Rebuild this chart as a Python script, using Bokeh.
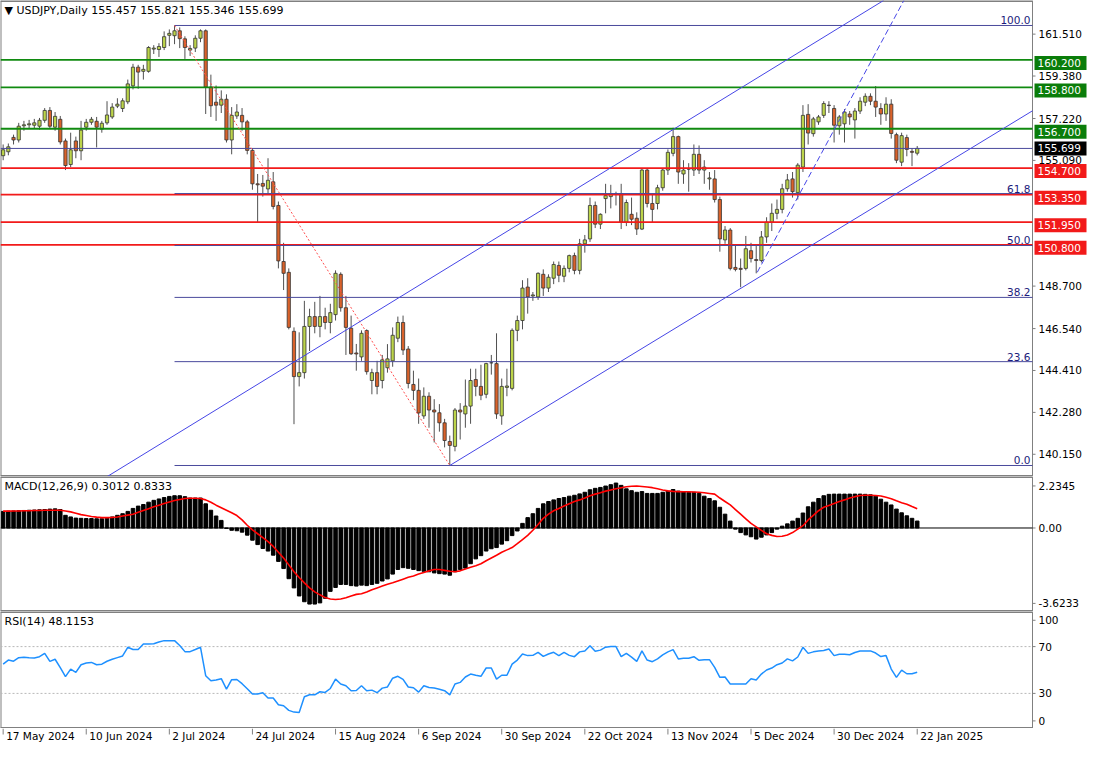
import numpy as np
from bokeh.plotting import figure
from bokeh.layouts import column
from bokeh.models import ColumnDataSource, Range1d, Label
from bokeh.core.properties import value
from bokeh.embed import file_html
from bokeh.resources import INLINE

# ---------------- data ----------------
header_text = "\u25BC USDJPY,Daily  155.457 155.821 155.346 155.699"
macd_text = "MACD(12,26,9) 0.3012 0.8333"
rsi_text = "RSI(14) 48.1153"

date_ticks = [0, 16, 32, 48, 64, 80, 96, 112, 128, 144, 160, 176]
date_labels = ["17 May 2024", "10 Jun 2024", "2 Jul 2024", "24 Jul 2024", "15 Aug 2024",
               "6 Sep 2024", "30 Sep 2024", "22 Oct 2024", "13 Nov 2024", "5 Dec 2024",
               "30 Dec 2024", "22 Jan 2025"]

opens = [
    155.33, 155.53, 156.26, 156.13, 156.85, 156.90, 156.88, 156.83, 157.13, 157.63,
    156.78, 157.18, 156.08, 154.88, 156.08, 155.58, 156.78, 157.03, 157.08, 156.68,
    157.00, 157.30, 157.85, 157.73, 158.07, 158.88, 159.83, 159.62, 159.62, 160.75,
    160.73, 160.83, 161.45, 161.43, 161.68, 161.27, 160.70, 160.80, 161.30, 161.68,
    158.82, 158.05, 157.90, 158.20, 156.13, 157.35, 157.38, 157.05, 155.60, 153.90,
    153.92, 153.64, 154.00, 152.80, 149.95, 149.40, 146.40, 144.10, 144.30, 146.65,
    147.15, 146.65, 147.15, 146.85, 147.25, 149.30, 147.60, 146.56, 145.30, 145.10,
    146.44, 143.90, 144.30, 143.90, 144.55, 144.90, 146.05, 146.85, 145.50, 143.70,
    143.40, 142.10, 143.10, 142.40, 142.26, 141.75, 140.80, 140.55, 142.40, 142.20,
    142.60, 143.95, 143.60, 143.20, 144.80, 144.76, 142.10, 143.55, 143.50, 146.45,
    146.95, 148.65, 148.20, 148.15, 149.30, 148.60, 149.10, 149.75, 149.20, 149.60,
    150.25, 149.50, 150.85, 151.10, 152.80, 151.85, 153.15, 153.25, 153.40, 153.40,
    151.95, 152.35, 152.15, 151.60, 154.60, 152.90, 152.90, 153.70, 154.60, 155.45,
    156.30, 154.40, 154.65, 154.60, 155.40, 154.60, 154.15, 154.15, 153.10, 151.05,
    151.55, 149.65, 149.60, 149.60, 150.50, 150.05, 150.00, 151.20, 151.95, 152.40,
    152.60, 153.65, 154.15, 153.45, 154.75, 157.43, 156.45, 157.05, 157.38, 157.90,
    157.73, 156.85, 156.95, 157.45, 157.15, 157.60, 158.05, 158.35, 158.10, 157.73,
    157.45, 157.95, 156.40, 155.00, 156.25, 155.55, 155.457]

highs = [
    155.90, 155.95, 156.40, 157.00, 157.10, 157.15, 157.20, 157.25, 157.75, 157.80,
    157.55, 157.35, 156.20, 156.50, 156.30, 157.10, 157.20, 157.30, 157.30, 157.10,
    158.10, 158.00, 158.25, 158.25, 159.20, 160.00, 159.95, 159.95, 160.90, 160.95,
    161.05, 161.65, 161.75, 161.95, 161.85, 161.40, 160.95, 161.45, 161.75, 161.75,
    159.45, 158.90, 158.65, 158.45, 157.80, 157.95, 157.75, 157.15, 155.70, 154.40,
    154.35, 155.20, 154.50, 153.00, 150.90, 149.60, 146.60, 146.35, 147.95, 147.55,
    147.90, 148.20, 147.60, 147.80, 149.50, 149.40, 148.20, 147.20, 145.76, 146.45,
    146.50, 144.50, 144.90, 145.20, 145.75, 146.60, 147.15, 147.20, 145.65, 144.40,
    144.00, 143.55, 143.30, 142.95, 142.70, 141.95, 141.10, 142.50, 142.75, 143.95,
    144.50, 144.50, 144.70, 144.80, 145.20, 146.30, 144.00, 144.50, 146.55, 147.20,
    149.00, 149.10, 148.40, 149.40, 149.55, 149.30, 149.95, 149.95, 149.75, 150.30,
    150.40, 151.10, 151.30, 153.20, 153.00, 152.40, 153.90, 153.85, 153.50, 153.90,
    153.10, 153.20, 152.45, 154.70, 154.70, 153.40, 153.85, 154.70, 155.65, 156.75,
    156.35, 155.10, 154.95, 155.90, 155.85, 155.10, 154.50, 154.60, 153.25, 151.75,
    151.65, 150.75, 150.10, 151.25, 150.90, 150.80, 151.50, 152.20, 152.90, 153.10,
    153.90, 154.40, 154.50, 154.95, 157.90, 157.95, 157.30, 157.40, 158.10, 158.10,
    157.90, 157.40, 157.70, 157.60, 157.75, 158.30, 158.50, 158.50, 158.87, 158.00,
    158.30, 158.20, 156.50, 156.50, 156.40, 155.70, 155.821]

lows = [
    155.10, 155.35, 155.90, 156.00, 156.60, 156.70, 156.70, 156.65, 157.00, 156.70,
    156.60, 155.90, 154.60, 154.75, 155.20, 155.10, 156.60, 156.90, 155.75, 156.50,
    156.90, 157.20, 157.75, 157.55, 157.95, 158.70, 158.73, 159.20, 159.55, 160.50,
    160.35, 160.70, 160.90, 161.00, 160.80, 160.25, 160.40, 160.60, 161.10, 157.45,
    157.30, 157.10, 157.50, 156.00, 155.40, 157.20, 156.60, 155.40, 153.60, 151.95,
    153.25, 153.40, 152.60, 149.60, 148.50, 146.50, 141.68, 143.60, 144.00, 145.40,
    146.30, 146.10, 146.50, 146.30, 146.95, 147.40, 145.20, 145.20, 144.40, 144.90,
    144.20, 143.20, 143.20, 143.50, 144.30, 144.60, 145.85, 145.20, 143.50, 142.90,
    141.70, 141.95, 141.50, 140.75, 141.30, 140.50, 139.58, 140.30, 140.90, 141.50,
    141.70, 143.10, 142.90, 143.00, 144.20, 141.95, 141.65, 143.10, 143.40, 145.90,
    146.50, 147.30, 147.95, 148.00, 148.20, 148.40, 148.80, 148.90, 148.90, 149.40,
    149.30, 149.30, 150.40, 150.95, 151.65, 151.60, 152.40, 152.65, 152.80, 151.60,
    151.75, 151.80, 151.30, 151.55, 152.70, 151.95, 152.60, 153.55, 154.35, 155.30,
    153.90, 153.90, 153.50, 154.30, 154.40, 153.90, 153.60, 152.95, 150.45, 150.85,
    149.50, 149.45, 148.64, 149.50, 149.90, 149.35, 149.90, 150.90, 151.50, 152.10,
    152.40, 153.50, 153.20, 153.10, 154.50, 155.90, 156.30, 156.90, 157.25, 157.50,
    156.00, 156.40, 156.00, 156.90, 156.20, 157.45, 157.85, 157.90, 157.30, 156.90,
    157.10, 156.20, 154.95, 154.80, 155.30, 154.80, 155.346]

closes = [
    155.63, 155.78, 156.13, 156.83, 156.90, 156.95, 157.00, 157.13, 157.63, 156.83,
    157.33, 156.03, 154.83, 155.63, 155.58, 156.63, 157.03, 157.18, 156.78, 156.98,
    157.40, 157.80, 157.95, 158.12, 158.98, 159.83, 159.58, 159.72, 160.83, 160.80,
    160.88, 161.38, 161.55, 161.68, 161.28, 160.83, 160.78, 161.30, 161.68, 158.82,
    157.87, 157.90, 158.20, 156.13, 157.38, 157.55, 157.05, 155.60, 153.90, 153.85,
    153.78, 154.08, 152.75, 149.98, 149.35, 146.60, 144.10, 144.30, 146.65, 147.15,
    146.65, 147.15, 146.85, 147.35, 149.35, 147.60, 146.60, 145.26, 145.25, 146.30,
    144.35, 144.30, 143.60, 144.95, 145.00, 146.20, 146.85, 145.45, 143.75, 143.40,
    142.25, 143.10, 142.40, 142.30, 141.75, 140.85, 140.60, 142.40, 142.30, 142.60,
    143.90, 143.60, 143.15, 144.76, 144.80, 142.20, 143.60, 143.62, 146.45, 146.95,
    148.60, 148.15, 148.25, 149.35, 148.60, 149.15, 149.80, 149.25, 149.60, 150.25,
    149.50, 150.85, 151.05, 152.80, 151.85, 152.35, 153.30, 153.40, 153.40, 151.95,
    152.95, 152.10, 151.60, 154.60, 152.90, 152.60, 153.70, 154.60, 155.50, 156.30,
    154.50, 154.60, 154.65, 155.40, 154.60, 154.75, 154.20, 153.10, 151.10, 151.55,
    149.60, 149.55, 149.55, 150.60, 150.10, 150.00, 151.20, 151.95, 152.40, 152.60,
    153.65, 154.10, 153.50, 154.85, 157.38, 156.48, 157.20, 157.30, 157.98, 157.88,
    156.88, 157.30, 157.55, 157.30, 157.60, 158.10, 158.35, 158.10, 157.80, 157.45,
    157.95, 156.46, 155.10, 156.35, 155.65, 155.50, 155.699]

macd_hist = [
    0.72, 0.73, 0.74, 0.75, 0.76, 0.77, 0.78, 0.79, 0.80, 0.82,
    0.83, 0.80, 0.55, 0.48, 0.43, 0.42, 0.41, 0.41, 0.40, 0.40,
    0.42, 0.48, 0.55, 0.62, 0.72, 0.85, 0.95, 1.02, 1.12, 1.20,
    1.26, 1.32, 1.37, 1.40, 1.40, 1.36, 1.30, 1.30, 1.30, 1.05,
    0.77, 0.52, 0.33, -0.02, -0.10, -0.12, -0.18, -0.31, -0.53, -0.72,
    -0.89, -1.00, -1.18, -1.45, -1.76, -2.20, -2.60, -2.95, -3.20, -3.30,
    -3.30, -3.25, -3.05, -2.75, -2.58, -2.45, -2.45, -2.50, -2.52, -2.48,
    -2.50, -2.45, -2.40, -2.30, -2.21, -2.00, -1.80, -1.72, -1.75, -1.80,
    -1.85, -1.88, -1.90, -1.95, -1.98, -2.00, -2.05, -1.90, -1.80, -1.74,
    -1.55, -1.34, -1.20, -1.00, -0.90, -0.85, -0.70, -0.55, -0.33, -0.13,
    0.20, 0.45, 0.62, 0.85, 1.05, 1.15, 1.22, 1.28, 1.32, 1.38,
    1.42, 1.48, 1.55, 1.66, 1.72, 1.76, 1.82, 1.88, 1.95, 1.85,
    1.70, 1.62, 1.55, 1.58, 1.50, 1.50, 1.50, 1.55, 1.60, 1.67,
    1.60, 1.56, 1.55, 1.55, 1.50, 1.38, 1.28, 1.18, 0.90, 0.60,
    0.30, -0.05, -0.20, -0.30, -0.38, -0.48, -0.40, -0.30, -0.20, -0.05,
    0.08, 0.18, 0.30, 0.42, 0.65, 0.92, 1.12, 1.28, 1.40, 1.46,
    1.47, 1.47, 1.47, 1.47, 1.47, 1.47, 1.46, 1.44, 1.38, 1.25,
    1.12, 1.00, 0.82, 0.66, 0.53, 0.42, 0.3012]

macd_signal = [
    0.73, 0.73, 0.74, 0.74, 0.75, 0.75, 0.76, 0.76, 0.77, 0.77,
    0.77, 0.77, 0.74, 0.70, 0.64, 0.58, 0.54, 0.50, 0.47, 0.45,
    0.45, 0.46, 0.48, 0.52, 0.56, 0.60, 0.68, 0.76, 0.84, 0.92,
    0.99, 1.06, 1.13, 1.19, 1.24, 1.28, 1.29, 1.29, 1.28, 1.22,
    1.12, 0.99, 0.88, 0.77, 0.66, 0.54, 0.35, 0.12, -0.08, -0.25,
    -0.42, -0.59, -0.80, -1.05, -1.30, -1.60, -1.90, -2.15, -2.38, -2.60,
    -2.77, -2.90, -3.02, -3.08, -3.10, -3.08, -3.03, -2.95, -2.88, -2.85,
    -2.78, -2.68, -2.60, -2.52, -2.44, -2.38, -2.30, -2.22, -2.14, -2.08,
    -2.00, -1.93, -1.86, -1.80, -1.80, -1.84, -1.88, -1.90, -1.86, -1.78,
    -1.70, -1.64, -1.55, -1.42, -1.30, -1.18, -1.05, -0.95, -0.85, -0.68,
    -0.50, -0.32, -0.10, 0.15, 0.42, 0.60, 0.75, 0.85, 0.95, 1.05,
    1.15, 1.22, 1.30, 1.40, 1.47, 1.53, 1.60, 1.65, 1.70, 1.75,
    1.79, 1.81, 1.82, 1.80, 1.78, 1.75, 1.70, 1.65, 1.61, 1.59,
    1.58, 1.57, 1.57, 1.56, 1.55, 1.53, 1.50, 1.47, 1.30, 1.15,
    1.00, 0.80, 0.60, 0.40, 0.20, 0.05, -0.10, -0.25, -0.32, -0.37,
    -0.36, -0.30, -0.20, -0.05, 0.10, 0.35, 0.55, 0.75, 0.90, 0.98,
    1.06, 1.15, 1.22, 1.30, 1.36, 1.41, 1.42, 1.42, 1.41, 1.39,
    1.33, 1.27, 1.18, 1.10, 1.03, 0.93, 0.8333]

rsi = [
    55.0, 58.5, 57.5, 60.5, 61.0, 60.5, 60.3, 61.4, 64.2, 57.4,
    59.2, 52.0, 44.3, 50.8, 48.0, 54.5, 56.0, 56.5, 54.5, 55.0,
    57.5, 59.2, 60.6, 62.0, 69.4, 67.5, 67.5, 72.2, 72.2, 72.5,
    74.0, 75.1, 75.1, 75.1, 71.0, 65.7, 65.7, 67.5, 69.4, 45.1,
    40.8, 41.5, 42.6, 33.7, 41.7, 41.9, 38.3, 34.0, 29.4, 29.4,
    30.5, 26.0, 26.0, 20.3, 19.4, 15.5, 14.0, 13.7, 27.1, 28.8,
    28.8, 31.4, 30.8, 34.2, 42.2, 38.0, 36.5, 32.3, 32.5, 36.5,
    32.3, 32.8, 30.6, 34.5, 35.5, 43.0, 44.6, 42.0, 35.5, 34.8,
    31.1, 36.5, 35.0, 34.6, 33.5, 32.3, 28.8, 38.0, 39.4, 44.0,
    46.5, 45.5, 44.6, 51.7, 51.7, 42.2, 45.5, 45.5, 55.0, 58.5,
    63.7, 62.3, 62.5, 65.1, 61.6, 63.7, 65.1, 62.3, 65.1, 62.5,
    61.4, 65.5, 66.3, 70.8, 66.0, 67.0, 69.5, 70.0, 70.0, 61.4,
    64.2, 61.0, 57.4, 66.3, 58.5, 57.1, 59.5, 63.0, 65.5, 67.4,
    59.5, 60.0, 60.1, 61.4, 58.3, 58.8, 58.8, 52.2, 43.7, 44.0,
    38.0, 38.0, 38.0, 38.0, 42.6, 41.5, 46.5, 50.0, 51.7, 54.5,
    56.0, 59.5, 57.8, 61.1, 69.4, 64.2, 65.5, 66.2, 66.6, 68.0,
    62.3, 63.5, 63.5, 63.0, 65.0, 66.3, 66.3, 66.3, 64.5, 61.5,
    62.3, 50.8, 43.7, 49.9, 46.8, 46.8, 48.1153]

green_levels = [160.200, 158.800, 156.700]
red_levels = [154.700, 153.350, 151.950, 150.800]
current_price = 155.699
fib_high_bar, fib_high = 33, 161.95
fib_low_bar, fib_low = 86, 139.58
fib_ratios = [0.0, 23.6, 38.2, 50.0, 61.8, 100.0]
price_ticks = [161.510, 159.380, 157.220, 155.090, 148.700, 146.540, 144.410, 142.280, 140.150]
price_range = (139.02, 163.22)
macd_range = (-3.6233, 2.2345)
rsi_range = (0, 100)
rsi_levels = [70, 30]
upper_channel = [(56, 144.84), (129, 156.66)]
lower_channel = [(86, 139.58), (142, 148.58)]
dashed_trend = [(145.2, 149.40), (166.3, 159.73)]

n = len(closes)
assert len(opens) == n and len(highs) == n and len(lows) == n
assert len(macd_hist) == n and len(macd_signal) == n and len(rsi) == n

# ---------------- layout / style ----------------
FONT = "DejaVu Sans"
FS = "10.5px"
W = 1091
PLOT_W = 1032                     # width of the plotting frame, the rest is the price scale
X0, X_END = -0.51, 198.2          # bar-index range of the plotting frame
PX = PLOT_W / (X_END - X0)        # pixels per bar
X_FULL = X0 + W / PX
MAIN_H = 476
PY = MAIN_H / (price_range[1] - price_range[0])   # pixels per yen in the main panel
BULL = "#bcd44a"
BEAR = "#d9622b"
FIB_C = "#4a4a9c"
CHAN_C = "#4646e6"
NAVY = "#1c1c7c"
FRAME = "#808080"

xr = Range1d(X0, X_FULL)


def px(v):
    return v / PX


def panel(h, yrange):
    y0, y1 = yrange
    p = figure(width=W, height=h, x_range=xr, y_range=Range1d(y0, y1), output_backend="svg",
               toolbar_location=None, x_axis_location=None, y_axis_location=None,
               min_border_left=0, min_border_right=0, min_border_top=0, min_border_bottom=0)
    p.outline_line_color = None
    p.grid.visible = False
    # frame of the plotting area
    p.segment(x0=[X0, X0, X0, X_END], x1=[X_END, X_END, X0, X_END],
              y0=[y0, y1, y0, y0], y1=[y0, y1, y1, y1],
              line_color=FRAME, line_width=[3, 3, 2, 1])
    return p


def price_scale(p, ticks, labels):
    k = len(ticks)
    p.segment(x0=[X_END] * k, x1=[X_END + px(3)] * k, y0=ticks, y1=ticks, line_color=FRAME)
    p.text(x=[X_END + px(6)] * k, y=ticks, text=labels, text_font=value(FONT),
           text_font_size=value(FS), text_baseline="middle", text_align="left",
           text_color="black")


def header(p, text, y):
    p.add_layout(Label(x=X0, y=y, x_offset=4, y_offset=-3, text=text,
                       text_font=FONT, text_font_size="11px", text_color="black",
                       text_baseline="top", text_align="left"))


def hline(p, levels, color, width, dash="solid", x_from=X0):
    k = len(levels)
    p.segment(x0=[x_from] * k, x1=[X_END] * k, y0=levels, y1=levels,
              line_color=color, line_width=width, line_dash=dash)


# ---------------- main price panel ----------------
p1 = panel(MAIN_H, price_range)

idx = np.arange(n)
o = np.array(opens)
c = np.array(closes)
src = ColumnDataSource(dict(
    x=idx, high=highs, low=lows,
    top=np.maximum(o, c), bottom=np.minimum(o, c),
    fill=[BULL if cc >= oo else BEAR for oo, cc in zip(o, c)]))
p1.segment(x0="x", y0="low", x1="x", y1="high", source=src, line_color="#505050", line_width=1)
p1.vbar(x="x", width=0.62, top="top", bottom="bottom", source=src,
        fill_color="fill", line_color="#333333", line_width=0.8)

hline(p1, green_levels, "#108a10", 1.8)
hline(p1, red_levels, "#f21a1a", 1.8)
hline(p1, [current_price], FIB_C, 1)

# fibonacci retracement
fib_prices = [fib_low + r / 100.0 * (fib_high - fib_low) for r in fib_ratios]
hline(p1, fib_prices, FIB_C, 1, x_from=fib_high_bar)
p1.line([fib_high_bar, fib_low_bar], [fib_high, fib_low], line_color="#ff5050",
        line_dash="2 2", line_width=1)
for r, fp in zip(fib_ratios, fib_prices):
    p1.add_layout(Label(x=X_END, y=fp, x_offset=-2, y_offset=1, text=f"{r:.1f}",
                        text_font=FONT, text_font_size=FS, text_color=NAVY,
                        text_align="right", text_baseline="bottom"))


def trend(pts, x_from, x_to):
    (xa, ya), (xb, yb) = pts
    s = (yb - ya) / (xb - xa)
    return [x_from, x_to], [ya + s * (x_from - xa), ya + s * (x_to - xa)]


def clipped_line(pts, x_from, **kw):
    xs, ys = trend(pts, x_from, X_END)
    top = price_range[1]
    if ys[1] > top:
        s = (ys[1] - ys[0]) / (xs[1] - xs[0])
        xs[1] = xs[0] + (top - ys[0]) / s
        ys[1] = top
    p1.line(xs, ys, line_color=CHAN_C, line_width=1, **kw)


clipped_line(upper_channel, X0)
clipped_line(lower_channel, lower_channel[0][0])
clipped_line(dashed_trend, dashed_trend[0][0], line_dash="6 3")

price_scale(p1, price_ticks, [f"{t:.3f}" for t in price_ticks])

# price boxes on the scale (line labels sit a little below their line, bid label centred)
box_levels = green_levels + [current_price] + red_levels
box_colors = ["#0a7d0a"] * len(green_levels) + ["black"] + ["#f21a1a"] * len(red_levels)
box_shift = [3] * len(green_levels) + [0] + [3] * len(red_levels)
box_y = [lv - s / PY for lv, s in zip(box_levels, box_shift)]
kb = len(box_levels)
p1.rect(x=[X_END + px(28)] * kb, y=box_y, width=52, height=14,
        width_units="screen", height_units="screen", fill_color=box_colors, line_color=None)
p1.text(x=[X_END + px(5)] * kb, y=box_y, text=[f"{v:.3f}" for v in box_levels],
        text_font=value(FONT), text_font_size=value(FS), text_baseline="middle",
        text_align="left", text_color="white")

header(p1, header_text, price_range[1])

# ---------------- MACD panel ----------------
p2 = panel(135, macd_range)
span_m = macd_range[1] - macd_range[0]
macd_ticks = [macd_range[1] - 0.07 * span_m, 0.0, macd_range[0] + 0.06 * span_m]
price_scale(p2, macd_ticks, [f"{macd_range[1]:.4f}", "0.00", f"{macd_range[0]:.4f}"])
p2.vbar(x=idx, top=macd_hist, bottom=0, width=0.68, color="black")
hline(p2, [0.0], "black", 1)
p2.line(idx, macd_signal, line_color="#ff0000", line_width=1.6)
header(p2, macd_text, macd_range[1])

# ---------------- RSI panel ----------------
p3 = panel(117, rsi_range)
rsi_ticks = [rsi_range[1] - 7.5, 70, 30, rsi_range[0] + 6.5]
price_scale(p3, rsi_ticks, ["100", "70", "30", "0"])
hline(p3, rsi_levels, "#b8b8b8", 1, dash="2 2")
p3.line(idx, rsi, line_color="#1e90ff", line_width=1.5)
header(p3, rsi_text, rsi_range[1])

# ---------------- date scale ----------------
p4 = figure(width=W, height=19, x_range=xr, y_range=Range1d(0, 19), output_backend="svg",
            toolbar_location=None, x_axis_location=None, y_axis_location=None,
            min_border_left=0, min_border_right=0, min_border_top=0, min_border_bottom=0)
p4.outline_line_color = None
p4.grid.visible = False
kd = len(date_ticks)
p4.segment(x0=date_ticks, x1=date_ticks, y0=[19] * kd, y1=[13] * kd, line_color=FRAME)
p4.text(x=[t + px(3) for t in date_ticks], y=[17.5] * kd, text=date_labels,
        text_font=value(FONT), text_font_size=value(FS), text_baseline="top",
        text_align="left", text_color="black")

layout = column(p1, p2, p3, p4, spacing=0)
open("out.html", "w").write(file_html(layout, INLINE))
